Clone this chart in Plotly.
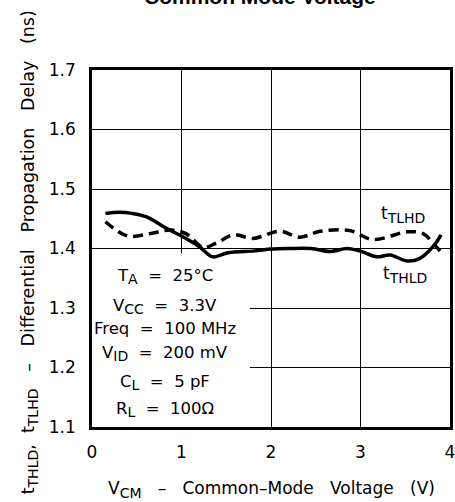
import plotly.graph_objects as go

# data
x_thld = [0.15, 0.3, 0.45, 0.61, 0.83, 1.0, 1.2, 1.35, 1.52, 1.82, 2.0, 2.2, 2.45, 2.66, 2.85, 3.01, 3.18, 3.33, 3.52, 3.66, 3.81, 3.9]
y_thld = [1.459, 1.461, 1.459, 1.453, 1.434, 1.421, 1.403, 1.386, 1.393, 1.396, 1.399, 1.4, 1.4, 1.395, 1.4, 1.395, 1.386, 1.389, 1.379, 1.383, 1.403, 1.423]

x_tlhd = [0.15, 0.4, 0.65, 0.87, 1.05, 1.24, 1.4, 1.58, 1.8, 2.1, 2.32, 2.55, 2.88, 3.14, 3.52, 3.7, 3.81, 3.91]
y_tlhd = [1.445, 1.421, 1.425, 1.431, 1.425, 1.402, 1.41, 1.423, 1.417, 1.429, 1.419, 1.429, 1.430, 1.415, 1.428, 1.425, 1.409, 1.392]

x_ticks = [0, 1, 2, 3, 4]
y_ticks = [1.1, 1.2, 1.3, 1.4, 1.5, 1.6, 1.7]

SUB = "<sub><span style='font-size:14px'>{}</span></sub>"

cond_lines = ["T" + SUB.format("A") + "  =  25°C",
              "V" + SUB.format("CC") + "  =  3.3V",
              "Freq  =  100 MHz",
              "V" + SUB.format("ID") + "  =  200 mV",
              "C" + SUB.format("L") + "  =  5 pF",
              "R" + SUB.format("L") + "  =  100Ω"]
cond_y = [1.353, 1.303, 1.266, 1.224, 1.174, 1.129]

FONT = "DejaVu Sans"

fig = go.Figure()
fig.add_trace(go.Scatter(x=x_tlhd, y=y_tlhd, mode="lines",
                         line=dict(color="black", width=3.5, dash="10px,6px", shape="spline"), showlegend=False))
fig.add_trace(go.Scatter(x=x_thld, y=y_thld, mode="lines",
                         line=dict(color="black", width=3.5, shape="spline"), showlegend=False))

# white area behind the test conditions
fig.add_shape(type="rect", x0=0, x1=1.765, y0=1.1, y1=1.392, fillcolor="white", line=dict(width=0), layer="between")

for t, yy in zip(cond_lines, cond_y):
    fig.add_annotation(x=0.81, y=yy, text=t, showarrow=False,
                       font=dict(family=FONT, size=16.5, color="black"), xanchor="center", yanchor="middle")

fig.add_annotation(x=3.475, y=1.457, text="t" + SUB.format("TLHD"), showarrow=False,
                   font=dict(family=FONT, size=17, color="black"))
fig.add_annotation(x=3.5, y=1.356, text="t" + SUB.format("THLD"), showarrow=False,
                   font=dict(family=FONT, size=17, color="black"))

fig.add_annotation(xref="paper", yref="paper", x=0.47, y=1.243, text="<b>Common Mode Voltage</b>", showarrow=False,
                   font=dict(family="Liberation Sans", size=21, color="black"))
fig.add_annotation(xref="paper", yref="paper", x=-0.213, y=0.49, textangle=-90,
                   text="t" + SUB.format("THLD") + ",  t" + SUB.format("TLHD") +
                        "   –   Differential   Propagation   Delay   (ns)",
                   showarrow=False, font=dict(family=FONT, size=17.5, color="black"))
fig.add_annotation(xref="paper", yref="paper", x=0.5, y=-0.212,
                   text="V" + SUB.format("CM") + "   –   Common–Mode   Voltage   (V)",
                   showarrow=False, font=dict(family=FONT, size=17, color="black"))

fig.update_xaxes(range=[0, 4], tickvals=x_ticks, showgrid=True, gridcolor="black", gridwidth=1.3,
                 showline=True, linecolor="black", linewidth=2.5, mirror=True, zeroline=False,
                 ticks="", ticklabelstandoff=8, ticklabeloverflow="allow",
                 tickfont=dict(family=FONT, size=17, color="black"))
fig.update_yaxes(range=[1.1, 1.7], tickvals=y_ticks, tickformat=".1f", showgrid=True, gridcolor="black", gridwidth=1.3,
                 showline=True, linecolor="black", linewidth=2.5, mirror=True, zeroline=False,
                 ticks="", ticklabelstandoff=10, ticklabeloverflow="allow",
                 tickfont=dict(family=FONT, size=17, color="black"))

fig.update_layout(width=455, height=502, margin=dict(l=92, r=5, t=70, b=75, autoexpand=False),
                  plot_bgcolor="white", paper_bgcolor="white")

fig.write_html("out.html", config={"displayModeBar": False},
               post_script="document.body.style.margin='0';")
